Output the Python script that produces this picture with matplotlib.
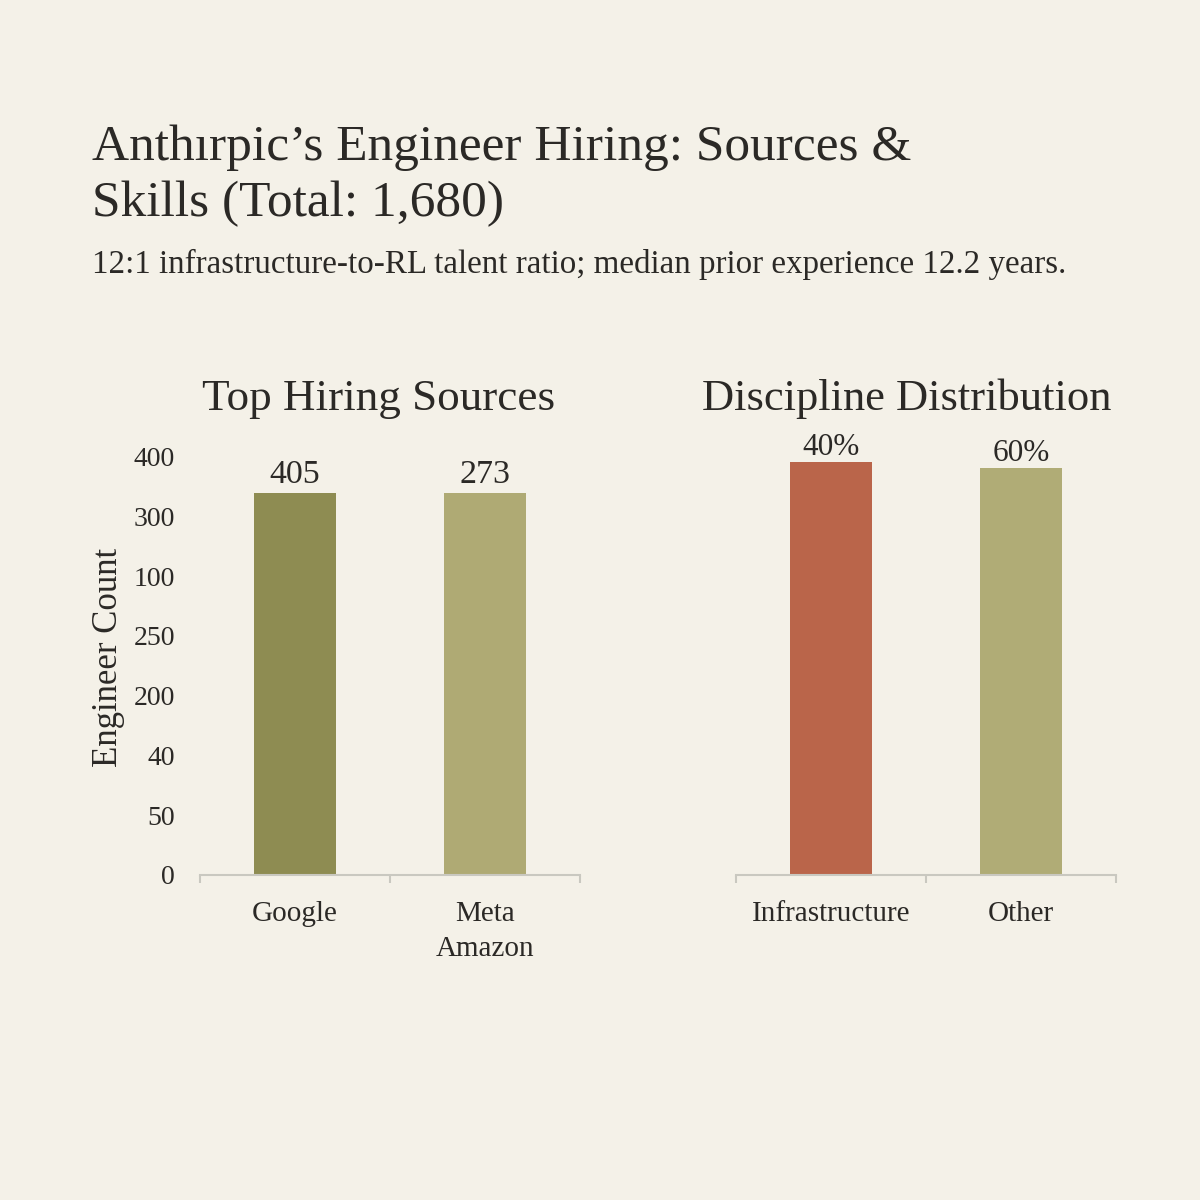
import numpy as np
import matplotlib
matplotlib.use("Agg")
import matplotlib.pyplot as plt

# data
sources = ["Google", "Meta\nAmazon"]
source_heights = [320, 320]
source_labels = ["405", "273"]
ytick_vals = [0, 50, 100, 150, 200, 250, 300, 350]
ytick_text = ["0", "50", "40", "200", "250", "100", "300", "400"]

disciplines = ["Infrastructure", "Other"]
discipline_heights = [94.9, 93.6]
discipline_labels = ["40%", "60%"]

BG = "#F4F1E8"
TXT = "#2B2926"
plt.rcParams["font.family"] = ["Liberation Serif", "DejaVu Serif"]

fig = plt.figure(figsize=(12, 12), dpi=100, facecolor=BG)

fig.text(0.077, 0.811, "Anthırpic’s Engineer Hiring: Sources &\nSkills (Total: 1,680)",
         fontsize=37, color=TXT, va="bottom", ha="left", linespacing=1.26)
fig.text(0.077, 0.767, "12:1 infrastructure-to-RL talent ratio; median prior experience 12.2 years.",
         fontsize=23.8, color=TXT, va="bottom", ha="left")


def style_axis(ax):
    ax.set_facecolor(BG)
    for s in ["top", "right", "left"]:
        ax.spines[s].set_visible(False)
    ax.spines["bottom"].set_color("#C9C8C0")
    ax.spines["bottom"].set_linewidth(1.5)
    ax.set_xlim(-0.5, 1.5)
    ax.set_xticks([0, 1])
    ax.tick_params(axis="x", length=0, labelsize=21, labelcolor=TXT, pad=19)
    ax.set_xticks([-0.5, 0.5, 1.5], minor=True)
    ax.tick_params(axis="x", which="minor", length=6, width=1.5, color="#C9C8C0", direction="out")


# left panel
ax1 = fig.add_axes([200 / 1200, 325 / 1200, 380 / 1200, 435 / 1200])
style_axis(ax1)
x = np.arange(len(sources))
bars = ax1.bar(x, source_heights, width=0.43, color=["#8E8C52", "#AFAA74"])
ax1.set_xticklabels(sources, linespacing=1.45, va="top")
ax1.set_ylim(0, 364)
ax1.set_yticks(ytick_vals)
ax1.set_yticklabels(ytick_text)
ax1.tick_params(axis="y", length=0, labelsize=20, labelcolor=TXT, pad=18)
for b, lab in zip(bars, source_labels):
    ax1.annotate(lab, (b.get_x() + b.get_width() / 2, b.get_height()),
                 xytext=(0, 1.5), textcoords="offset points",
                 ha="center", va="bottom", fontsize=24.5, color=TXT)
ax1.set_ylabel("Engineer Count", fontsize=25, color=TXT, labelpad=6)
ax1.text(0.47, 1.048, "Top Hiring Sources", transform=ax1.transAxes,
         ha="center", va="bottom", fontsize=32.5, color=TXT)

# right panel
ax2 = fig.add_axes([736 / 1200, 325 / 1200, 380 / 1200, 435 / 1200])
style_axis(ax2)
x2 = np.arange(len(disciplines))
bars2 = ax2.bar(x2, discipline_heights, width=0.43, color=["#BA654A", "#B0AC76"])
ax2.set_xticklabels(disciplines)
ax2.set_ylim(0, 100)
ax2.set_yticks([])
for b, lab in zip(bars2, discipline_labels):
    ax2.annotate(lab, (b.get_x() + b.get_width() / 2, b.get_height()),
                 xytext=(0, 0), textcoords="offset points",
                 ha="center", va="bottom", fontsize=22.5, color=TXT)
ax2.text(0.45, 1.048, "Discipline Distribution", transform=ax2.transAxes,
         ha="center", va="bottom", fontsize=32, color=TXT)

fig.savefig("out.png", dpi=100, facecolor=BG)
